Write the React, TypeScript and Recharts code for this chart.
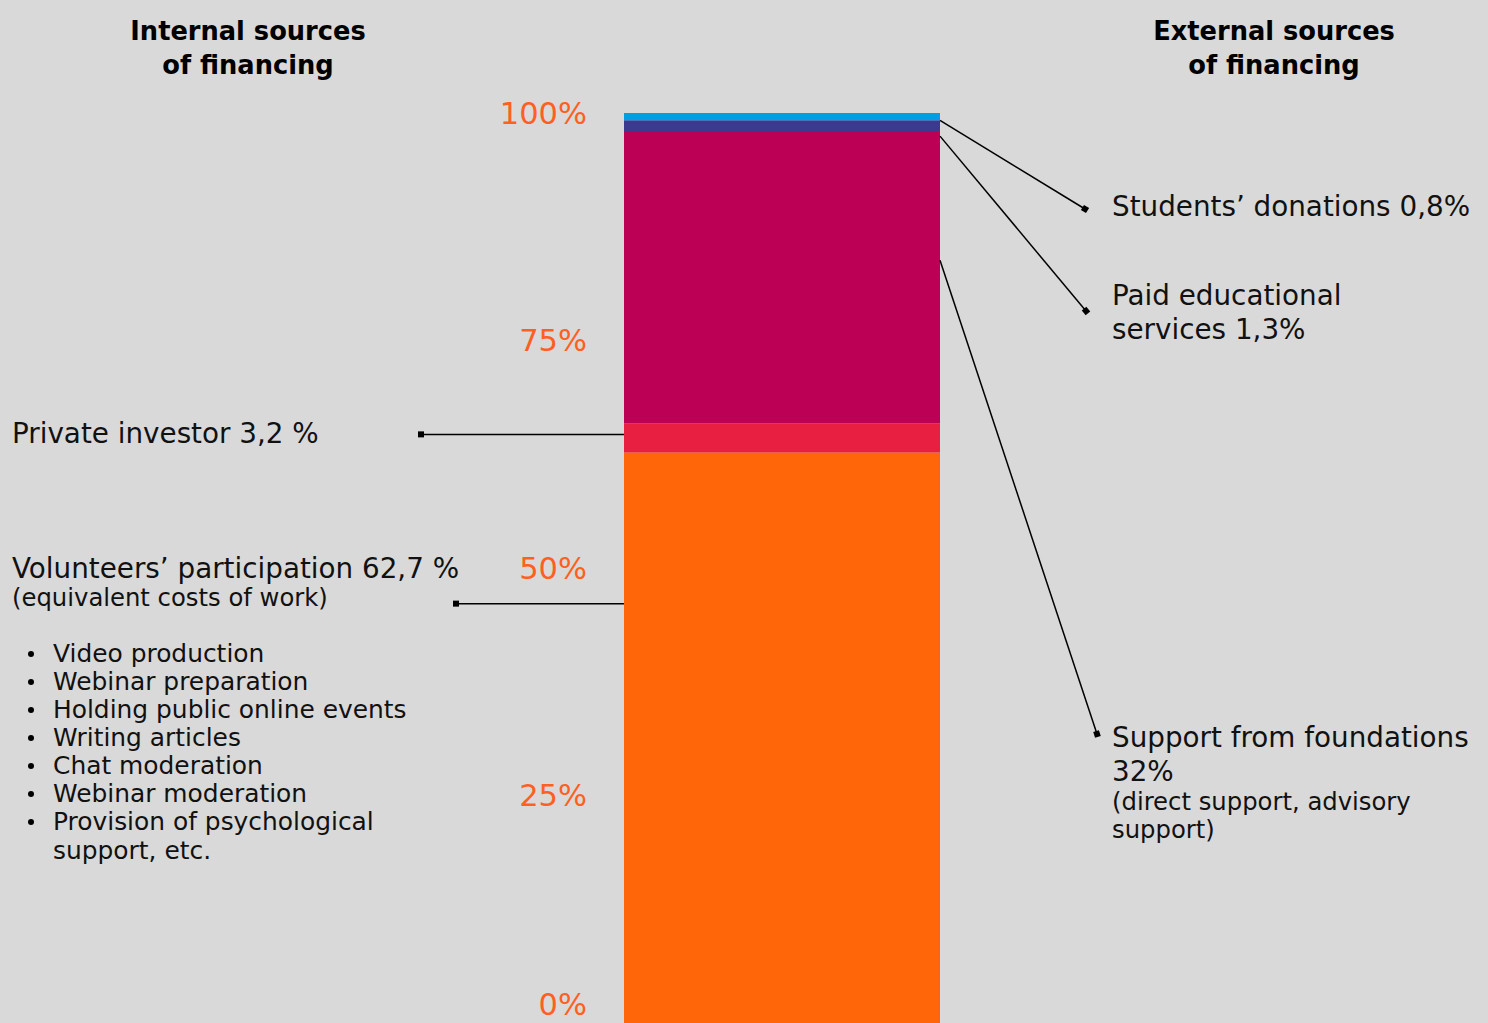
import { BarChart, Bar, XAxis, YAxis } from 'recharts';

// one stacked bar, bottom to top
const seriesKeys = ['volunteers', 'privateInvestor', 'foundations', 'paid', 'students'];
const seriesValues = [62.7, 3.2, 32, 1.3, 0.8];
const seriesColors = ['#FF6609', '#E81F41', '#BC0055', '#3C3A8F', '#009FE3'];
const yTicks = [0, 25, 50, 75, 100];
const tickLabels = ['0%', '25%', '50%', '75%', '100%'];

const volunteerTasks = [
  'Video production',
  'Webinar preparation',
  'Holding public online events',
  'Writing articles',
  'Chat moderation',
  'Webinar moderation',
  'Provision of psychological',
];

const row: Record<string, number | string> = { name: 'Financing' };
seriesKeys.forEach((k, i) => (row[k] = seriesValues[i]));
const chartData = [row];

const FONT = '"DejaVu Sans", sans-serif';
const BG = '#D9D9D9';
const TICK_COLOR = '#FF5F1F';
const BIG = 27.8;
const SMALL = 24.3;

type Line = { text: string; y: number; size: number; x?: number; bullet?: boolean };
type Note = {
  side: 'left' | 'right';
  frac: number; // where the leader leaves the segment, 0 = top, 1 = bottom
  extra?: number;
  end: [number, number];
  lines: Line[];
};

const bulletLines: Line[] = volunteerTasks.map((t, i) => ({ text: t, y: 653 + i * 28, size: 24.9, x: 53, bullet: true }));
bulletLines.push({ text: 'support, etc.', y: 850, size: 24.9, x: 53 });

const notes: Record<string, Note> = {
  students: {
    side: 'right', frac: 1, end: [1085, 209],
    lines: [{ text: 'Students’ donations 0,8%', y: 206, size: BIG }],
  },
  paid: {
    side: 'right', frac: 1, extra: 4, end: [1086, 311],
    lines: [
      { text: 'Paid educational', y: 295, size: BIG },
      { text: 'services 1,3%', y: 329, size: BIG },
    ],
  },
  foundations: {
    side: 'right', frac: 0.44, end: [1097, 734],
    lines: [
      { text: 'Support from foundations', y: 737, size: BIG },
      { text: '32%', y: 771, size: BIG },
      { text: '(direct support, advisory', y: 801, size: SMALL },
      { text: 'support)', y: 829, size: SMALL },
    ],
  },
  privateInvestor: {
    side: 'left', frac: 0.38, end: [421, 0],
    lines: [{ text: 'Private investor 3,2 %', y: 433, size: BIG, x: 12 }],
  },
  volunteers: {
    side: 'left', frac: 0.265, end: [456, 0],
    lines: [
      { text: 'Volunteers’ participation 62,7 %', y: 568, size: BIG, x: 12 },
      { text: '(equivalent costs of work)', y: 597, size: SMALL, x: 12 },
      ...bulletLines,
    ],
  },
};

const makeNote = (key: string) => (props: any) => {
  const note = notes[key];
  const x = Number(props.x), y = Number(props.y), w = Number(props.width), h = Number(props.height);
  const sx = note.side === 'right' ? x + w : x;
  const sy = y + h * note.frac + (note.extra || 0);
  const ex = note.end[0];
  // left-side leaders run horizontally
  const ey = note.side === 'left' ? sy : note.end[1];
  const angle = (Math.atan2(ey - sy, ex - sx) * 180) / Math.PI;
  return (
    <g key={key}>
      <line x1={sx} y1={sy} x2={ex} y2={ey} stroke="#000" strokeWidth={1.5} />
      <rect x={ex - 3} y={ey - 3} width={6} height={6} fill="#000" transform={`rotate(${angle} ${ex} ${ey})`} />
      {note.lines.map((l, i) => (
        <g key={i}>
          {l.bullet && <circle cx={31} cy={l.y + 1} r={3} fill="#000" />}
          <text
            x={l.x ?? 1112}
            y={l.y}
            dominantBaseline="central"
            fontFamily={FONT}
            fontSize={l.size}
            fill="#111"
          >
            {l.text}
          </text>
        </g>
      ))}
    </g>
  );
};

const PercentTick = (props: any) => {
  const { x, y, index } = props;
  // keep the bottom label inside the picture
  const ty = Math.min(Number(y), 1004);
  return (
    <text x={x} y={ty} textAnchor="end" dominantBaseline="central" fontFamily={FONT} fontSize={30.5} fill={TICK_COLOR}>
      {tickLabels[index]}
    </text>
  );
};

const titleStyle: React.CSSProperties = {
  position: 'absolute',
  top: 14,
  width: 400,
  textAlign: 'center',
  fontFamily: FONT,
  fontWeight: 700,
  fontSize: 25.7,
  lineHeight: '34px',
  color: '#000',
};

export default function App() {
  return (
    <div style={{ position: 'absolute', left: 0, top: 0, width: 1488, height: 1023, background: BG, overflow: 'hidden' }}>
      <div style={{ ...titleStyle, left: 248 - 200 }}>
        Internal sources
        <br />
        of financing
      </div>
      <div style={{ ...titleStyle, left: 1274 - 200 }}>
        External sources
        <br />
        of financing
      </div>
      <BarChart
        width={1488}
        height={1023}
        data={chartData}
        margin={{ top: 113, right: 548, bottom: 0, left: 524 }}
        barCategoryGap={0}
        style={{ position: 'absolute', left: 0, top: 0 }}
      >
        <XAxis dataKey="name" hide />
        <YAxis
          width={100}
          domain={[0, 100]}
          ticks={yTicks}
          axisLine={false}
          tickLine={false}
          tickSize={0}
          tickMargin={37}
          interval={0}
          tick={<PercentTick />}
        />
        {seriesKeys.map((k, i) => (
          <Bar key={k} dataKey={k} stackId="a" fill={seriesColors[i]} isAnimationActive={false} label={makeNote(k)} />
        ))}
      </BarChart>
    </div>
  );
}
